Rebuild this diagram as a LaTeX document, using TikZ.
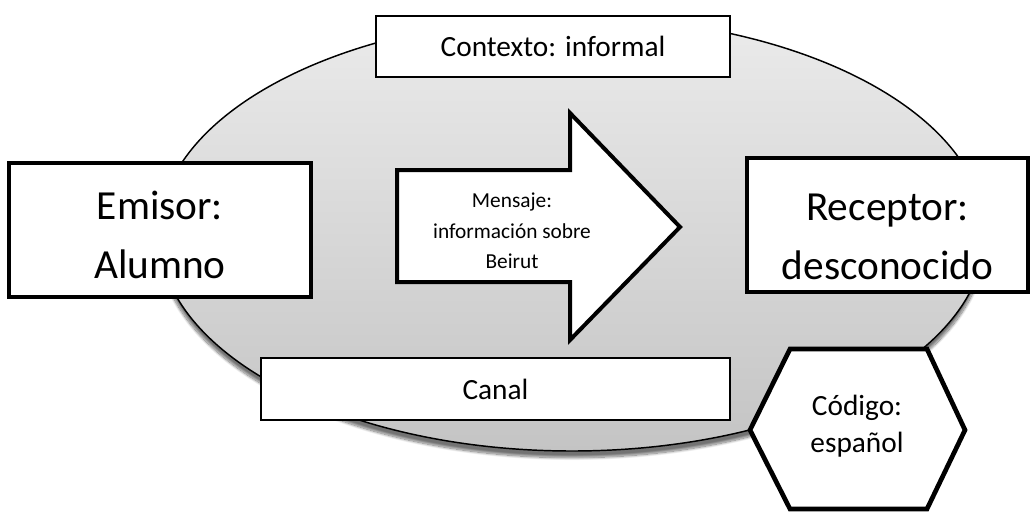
\documentclass[tikz,border=0pt]{standalone}
\usepackage{fontspec}
\setmainfont{Carlito}
\usetikzlibrary{shadows.blur}
\definecolor{ellTop}{HTML}{EBEBEB}
\definecolor{ellBot}{HTML}{C4C4C4}
\tikzset{
  bigbox/.style={draw=black, line width=3pt, fill=white, inner sep=0pt},
  bigtext/.style={inner sep=0pt, align=center, font=\fontsize{31}{44}\selectfont},
  thinbox/.style={draw=black, line width=1.5pt, fill=white, inner sep=0pt, align=center,
    font=\fontsize{22}{26}\selectfont},
  plain/.style={inner sep=0pt, align=center},
}
\begin{document}
\begin{tikzpicture}[x=0.75pt, y=-0.75pt]
\useasboundingbox (0,0) rectangle (1035,511);
% ellipse
\path[draw=black, line width=1.1pt, top color=ellTop, bottom color=ellBot,
  blur shadow={shadow xshift=0pt, shadow yshift=-5pt, shadow blur steps=14, shadow opacity=55}]
  (572,234) ellipse [x radius=413, y radius=217];
% boxes
\node[thinbox, minimum width=265.5pt, minimum height=45.75pt] (contexto) at (553,46.5) {Contexto: informal};
\node[thinbox, minimum width=351.75pt, minimum height=46.5pt] (canal) at (495.5,389) {Canal};
\node[bigbox, minimum width=226.5pt, minimum height=100.5pt] (emisor) at (160,230) {};
\node[bigtext] (emisorT) at (160,235) {Emisor:\\Alumno};
\node[bigbox, minimum width=210.75pt, minimum height=100.5pt] (receptor) at (887.5,225) {};
\node[bigtext] (receptorT) at (887.5,237) {Receptor:\\desconocido};
% arrow (mensaje)
\coordinate (a1) at (397,170);
\coordinate (a2) at (570,170);
\coordinate (a3) at (570,113);
\coordinate (a4) at (680,227);
\coordinate (a5) at (570,340);
\coordinate (a6) at (570,282);
\coordinate (a7) at (397,282);
\draw[line width=3pt, fill=white, line join=miter] (a1) -- (a2) -- (a3) -- (a4) -- (a5) -- (a6) -- (a7) -- cycle;
\node[plain, font=\fontsize{16}{23}\selectfont] (mensaje) at (512,231) {Mensaje:\\información sobre\\Beirut};
% hexagon (codigo)
\coordinate (h1) at (790,349);
\coordinate (h2) at (927,349);
\coordinate (h3) at (965,430);
\coordinate (h4) at (927,509);
\coordinate (h5) at (790,509);
\coordinate (h6) at (750,430);
\draw[line width=3.5pt, fill=white, line join=miter] (h1) -- (h2) -- (h3) -- (h4) -- (h5) -- (h6) -- cycle;
\node[plain, font=\fontsize{22}{28}\selectfont] (codigo) at (857,426) {Código:\\español};
\end{tikzpicture}
\end{document}
